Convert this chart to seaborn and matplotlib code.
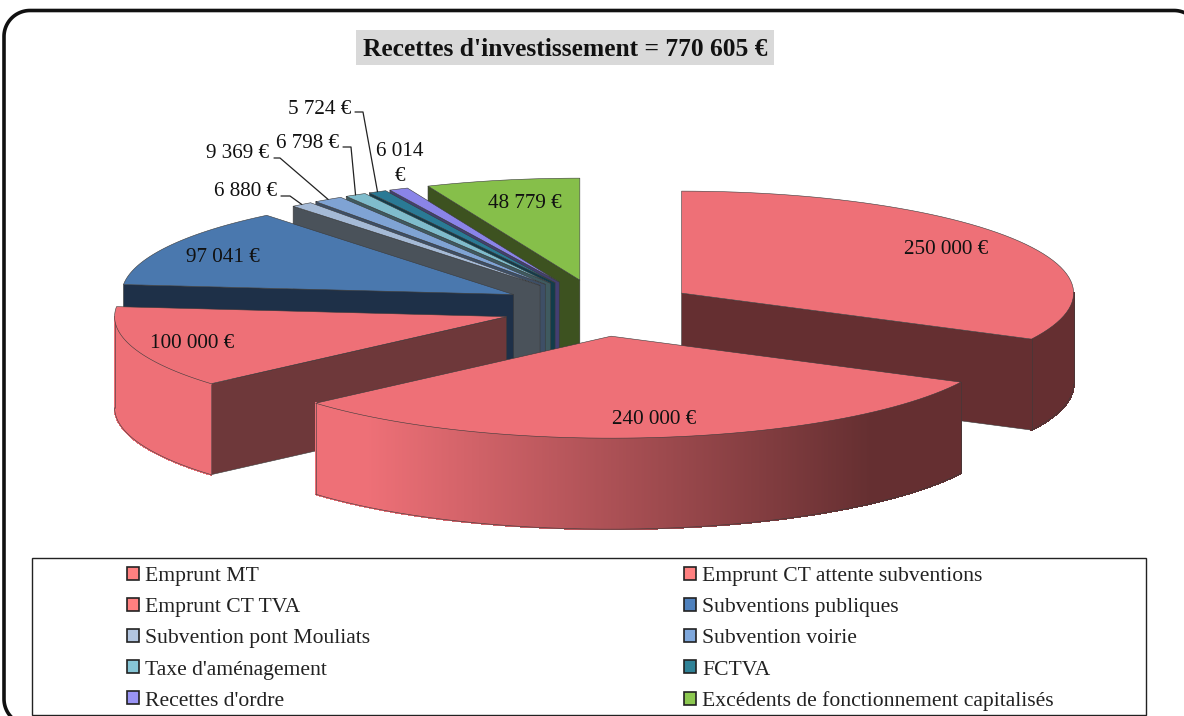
# 3D style exploded pie of investment receipts, drawn by hand on a pixel sized axes
import numpy as np
import seaborn as sns
import matplotlib.pyplot as plt
from matplotlib.patches import Polygon, Patch, Rectangle
from matplotlib.collections import PolyCollection
from matplotlib.colors import to_rgb

title = "Recettes d'investissement = 770 605 €"
categories = ["Emprunt CT attente subventions", "Emprunt MT", "Emprunt CT TVA",
              "Subventions publiques", "Subvention pont Mouliats", "Subvention voirie",
              "Taxe d'aménagement", "FCTVA", "Recettes d'ordre",
              "Excédents de fonctionnement capitalisés"]
values = [250000, 240000, 100000, 97041, 6880, 9369, 6798, 5724, 6014, 48779]

# order of the legend, row by row
legend_order = [1, 0, 2, 3, 4, 5, 6, 7, 8, 9]

top_colors = ["#ee7077", "#ee7077", "#ee7077", "#4a78ae", "#a5bad6",
              "#7fa3d4", "#7fbccc", "#2a7a95", "#8a84e8", "#86bf4a"]
side_colors = ["#652f31", "#652f31", "#6e383a", "#1e3048", "#4a525a",
               "#3e4f66", "#3f5a60", "#123c4a", "#433f72", "#3d5220"]
legend_colors = ["#ff8080", "#ff8080", "#ff8080", "#4f81bd", "#b3c6e0",
                 "#7fa8dc", "#86c6d6", "#2f8297", "#9a94f5", "#8cc850"]

# label centres and leader line elbows, in pixels
label_pos = [(946, 250), (654, 420), (192, 343), (223, 258), (245, 192),
             (238, 154), (307, 143), (320, 109), (400, 164), (525, 204)]
leaders = {4: [(281, 196), (290, 196)], 5: [(274, 158), (280, 158)],
           6: [(343, 147), (351, 147)], 7: [(355, 112), (363, 112)]}

# pie geometry, in pixels
cx, cy = 599, 308
rx, ry = 392, 102
ex, ey = 97, 28.4
depth = 91

sns.set_theme(style="white")
plt.rcParams['font.family'] = ['Liberation Serif', 'DejaVu Serif']

fig, ax = plt.subplots(figsize=(11.84, 7.16), dpi=100)
ax.set_position([0, 0, 1, 1])
ax.set_xlim(0, 1184)
ax.set_ylim(716, 0)
ax.axis('off')

angles = np.cumsum([0] + values) / sum(values) * 360
mids = (angles[:-1] + angles[1:]) / 2


def apex_of(i):
    m = np.radians(mids[i])
    return cx + ex * np.sin(m), cy - ey * np.cos(m)


def rim_point(i, deg):
    ax_x, ax_y = apex_of(i)
    t = np.radians(deg)
    return ax_x + rx * np.sin(t), ax_y - ry * np.cos(t)


def face(pts, color, z):
    ax.add_patch(Polygon(pts, closed=True, facecolor=color, edgecolor="#3a3a3a",
                         linewidth=0.4, zorder=z, joinstyle='round'))


def rim_shade(i, deg):
    # light on the left of the pie, dark on the right
    s = np.sin(np.radians(deg))
    t = np.clip((s + 0.625) / 1.285, 0, 1)
    return tuple((1 - t) * a + t * b for a, b in zip(to_rgb(top_colors[i]), to_rgb(side_colors[i])))


# paint from the back of the picture to the front
for z, i in enumerate(sorted(range(len(values)), key=lambda k: apex_of(k)[1])):
    a0, a1 = angles[i], angles[i + 1]
    apex = apex_of(i)
    base = 10 * z
    if 180 < a0 < 360:
        p = rim_point(i, a0)
        face([p, apex, (apex[0], apex[1] + depth), (p[0], p[1] + depth)], side_colors[i], base)
    if 0 < a1 < 180:
        p = rim_point(i, a1)
        face([p, apex, (apex[0], apex[1] + depth), (p[0], p[1] + depth)], side_colors[i], base)

    # outer wall, split in thin strips for the shading
    lo, hi = max(a0, 90), min(a1, 270)
    if hi > lo:
        steps = np.linspace(lo, hi, max(int((hi - lo) * 6), 2))
        strips, shades = [], []
        for d0, d1 in zip(steps[:-1], steps[1:]):
            p0, p1 = rim_point(i, d0), rim_point(i, d1)
            strips.append([p0, p1, (p1[0], p1[1] + depth), (p0[0], p0[1] + depth)])
            shades.append(rim_shade(i, (d0 + d1) / 2))
        ax.add_collection(PolyCollection(strips, facecolors=shades, edgecolors=shades,
                                         linewidths=0.8, antialiased=False, zorder=base + 1))
        arc = [rim_point(i, d) for d in steps]
        low = [(x, y + depth) for x, y in arc]
        ax.plot(*zip(*low), color="#3a3a3a", lw=0.4, zorder=base + 2)
        for p in (arc[0], arc[-1]):
            ax.plot([p[0], p[0]], [p[1], p[1] + depth], color="#3a3a3a", lw=0.4, zorder=base + 2)

    top = [apex] + [rim_point(i, d) for d in np.linspace(a0, a1, 60)]
    face(top, top_colors[i], base + 3)

# value labels
for i, v in enumerate(values):
    txt = f"{v:,}".replace(",", " ") + " €"
    if i == 8:
        txt = txt.replace(" €", "\n€")
    ax.text(*label_pos[i], txt, ha='center', va='center', fontsize=15.2, color="#111111",
            zorder=200, linespacing=1.45)

# leader lines run from the elbows to the middle of the outer edge
for i, pts in leaders.items():
    end = rim_point(i, mids[i])
    xs, ys = zip(*(pts + [end]))
    ax.plot(xs, ys, color="#222222", lw=0.9, zorder=150)

# title on its grey band
ax.add_patch(Rectangle((356, 30), 418, 35, facecolor="#d9d9d9", edgecolor="none", zorder=1))
ax.text(565, 50, title, ha='center', va='center', fontsize=18.4, fontweight='bold',
        color="#111111", zorder=2)

# legend box
ax.add_patch(Rectangle((32, 558), 1114, 156.5, facecolor="white", edgecolor="#222222", lw=1, zorder=300))
handles = [Patch(facecolor=legend_colors[k], edgecolor="#222222", linewidth=1.2) for k in legend_order]
labels = [categories[k] for k in legend_order]
# matplotlib fills columns first, the reference reads row by row
handles = handles[0::2] + handles[1::2]
labels = labels[0::2] + labels[1::2]
leg = ax.legend(handles, labels, ncol=2, frameon=False, loc='upper left',
                bbox_to_anchor=(127 / 1184, 1 - 567 / 716), borderaxespad=0, borderpad=0,
                fontsize=15.6, handlelength=0.55, handleheight=0.55, handletextpad=0.3,
                labelspacing=0.55, columnspacing=14.45, labelcolor="#222222")
leg.set_zorder(310)

# rounded outer frame, it runs off the right and the bottom of the picture
r = 26
left, top_y, right, bottom = 4, 10.5, 1200, 725
t = np.radians(np.linspace(0, 90, 30))
xs = np.r_[left + r - r * np.sin(t), left + r - r * np.cos(t), right - r + r * np.sin(t)]
ys = np.r_[bottom - r + r * np.cos(t), top_y + r - r * np.sin(t), top_y + r - r * np.cos(t)]
ax.plot(xs, ys, color="#111111", lw=2.6, zorder=400)

fig.savefig("out.png", dpi=100)
